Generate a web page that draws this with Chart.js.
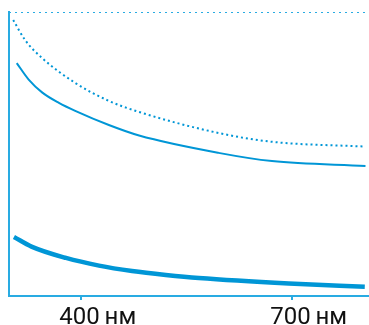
<!DOCTYPE html>
<html>
<head>
<meta charset="utf-8">
<script src="https://cdn.jsdelivr.net/npm/chart.js@4"></script>
<style>
  html, body { margin: 0; padding: 0; background: #fff; }
  #wrap { width: 369px; height: 325px; }
</style>
</head>
<body>
<div id="wrap"><canvas id="chart"></canvas></div>
<script>
// wavelengths (nm) and relative values
const dottedNm = [304, 321, 345, 393, 440, 483, 596, 672, 805];
const dottedVal = [97.2, 90.1, 83.8, 74.9, 68.7, 64.8, 57.4, 54.3, 52.6];

const thinNm = [309, 326, 345, 369, 393, 440, 483, 596, 672, 805];
const thinVal = [82.0, 76.2, 71.7, 68.0, 65.1, 60.2, 56.5, 50.4, 47.5, 45.8];

const thickNm = [305, 330, 379, 426, 473, 521, 568, 696, 804];
const thickVal = [20.8, 17.4, 13.4, 10.7, 8.8, 7.4, 6.3, 4.4, 3.3];

const topNm = [298, 810];
const topVal = [100, 100];

const tickValues = [400, 700];
const unit = "нм";

const blue = "rgb(0,150,214)";
const axisBlue = "rgb(41,171,226)";

const pts = (xs, ys) => xs.map((x, i) => ({ x: x, y: ys[i] }));

const ctx = document.getElementById("chart").getContext("2d");

new Chart(ctx, {
  type: "line",
  data: {
    datasets: [
      {
        data: pts(topNm, topVal),
        borderColor: axisBlue,
        borderWidth: 2,
        borderDash: [2, 4],
        pointRadius: 0,
      },
      {
        data: pts(dottedNm, dottedVal),
        borderColor: blue,
        borderWidth: 2,
        borderDash: [2, 3],
        pointRadius: 0,
        cubicInterpolationMode: "monotone",
      },
      {
        data: pts(thinNm, thinVal),
        borderColor: blue,
        borderWidth: 2,
        pointRadius: 0,
        cubicInterpolationMode: "monotone",
      },
      {
        data: pts(thickNm, thickVal),
        borderColor: blue,
        borderWidth: 4.5,
        pointRadius: 0,
        cubicInterpolationMode: "monotone",
      },
    ],
  },
  options: {
    responsive: true,
    maintainAspectRatio: false,
    animation: false,
    layout: { padding: { left: 9, right: 0, top: 12, bottom: 0 } },
    plugins: { legend: { display: false }, tooltip: { enabled: false } },
    scales: {
      x: {
        type: "linear",
        min: 298,
        max: 810,
        afterBuildTicks: (scale) => {
          scale.ticks = tickValues.map((v) => ({ value: v }));
        },
        afterFit: (scale) => {
          scale.height = 29;
        },
        border: { color: axisBlue, width: 2 },
        grid: { drawOnChartArea: false, color: axisBlue, tickLength: 4, lineWidth: 2 },
        ticks: {
          autoSkip: false,
          maxRotation: 0,
          color: "#111",
          padding: 6,
          labelOffset: 17,
          font: { family: "Roboto", size: 24, lineHeight: 1 },
          callback: (v) => v + "\u2009" + unit,
        },
      },
      y: {
        min: 0,
        max: 100,
        border: { color: axisBlue, width: 2 },
        grid: { display: false, drawTicks: false },
        ticks: { display: false },
      },
    },
  },
});
</script>
</body>
</html>
